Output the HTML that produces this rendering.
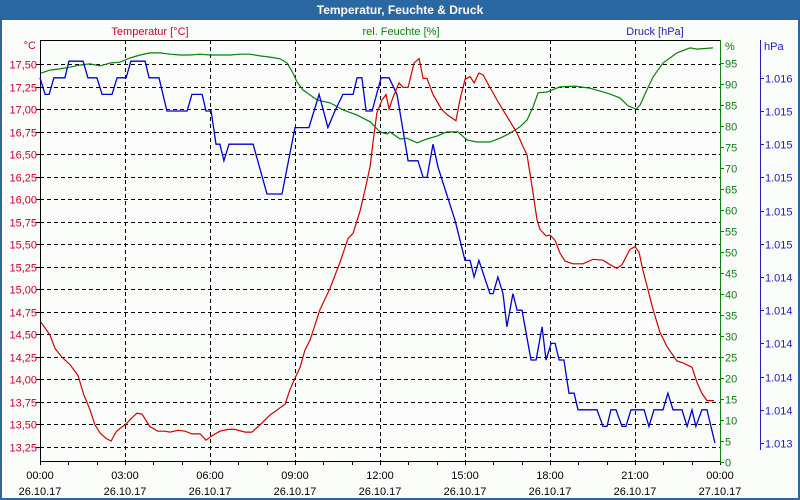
<!DOCTYPE html>
<html><head><meta charset="utf-8"><style>
body{margin:0;background:#fff;}
svg{display:block;font-family:"Liberation Sans",sans-serif;}
</style></head><body>
<svg id="c" width="800" height="500">
<rect x="0" y="0" width="800" height="500" fill="#2a67a3"/>
<rect x="2" y="20" width="796" height="478" fill="#fbfdfb"/>
<text x="400" y="14" text-anchor="middle" fill="#fff" font-size="12" font-weight="bold">Temperatur, Feuchte &amp; Druck</text>
<text x="150" y="35" text-anchor="middle" fill="#d0002a" font-size="11">Temperatur [°C]</text>
<text x="401" y="35" text-anchor="middle" fill="#108010" font-size="11">rel. Feuchte [%]</text>
<text x="655" y="35" text-anchor="middle" fill="#2020c0" font-size="11">Druck [hPa]</text>
<g id="grid"></g><g id="axes"></g><g id="series"></g>
</svg>
<script>
const NS="http://www.w3.org/2000/svg";
const tempTicks=[17.5,17.25,17.0,16.75,16.5,16.25,16.0,15.75,15.5,15.25,15.0,14.75,14.5,14.25,14.0,13.75,13.5,13.25];
const humTicks=[0,5,10,15,20,25,30,35,40,45,50,55,60,65,70,75,80,85,90,95];
const presTicks=[1013.4,1013.6,1013.8,1014.0,1014.2,1014.4,1014.6,1014.8,1015.0,1015.2,1015.4,1015.6];
const presLabels=["1.013","1.014","1.014","1.014","1.014","1.014","1.015","1.015","1.015","1.015","1.015","1.016"];
const timeLabels=["00:00","03:00","06:00","09:00","12:00","15:00","18:00","21:00","00:00"];
const dateLabels=["26.10.17","26.10.17","26.10.17","26.10.17","26.10.17","26.10.17","26.10.17","26.10.17","27.10.17"];
const tempHours=[0.04,0.35,0.53,0.78,1.06,1.34,1.55,1.62,1.76,1.94,2.12,2.33,2.51,2.68,2.86,3.04,3.25,3.42,3.6,3.88,4.16,4.41,4.59,4.87,5.12,5.36,5.65,5.86,6.07,6.35,6.64,6.88,7.24,7.48,7.76,8.12,8.47,8.65,8.82,9.0,9.18,9.35,9.53,9.88,10.24,10.59,10.87,11.05,11.29,11.47,11.65,11.75,11.89,12.07,12.21,12.32,12.46,12.67,12.81,12.99,13.2,13.38,13.52,13.66,13.87,14.19,14.4,14.68,14.82,15.0,15.18,15.32,15.49,15.64,15.88,16.13,16.34,16.59,16.84,17.05,17.19,17.29,17.4,17.54,17.65,17.86,18.0,18.18,18.35,18.53,18.81,19.16,19.52,19.87,20.12,20.36,20.54,20.82,21.0,21.14,21.28,21.46,21.64,21.88,22.13,22.48,22.69,23.01,23.19,23.36,23.54,23.79];
const tempValues=[14.63,14.49,14.34,14.24,14.16,14.04,13.82,13.77,13.66,13.49,13.4,13.34,13.31,13.41,13.46,13.5,13.57,13.62,13.61,13.47,13.42,13.42,13.41,13.43,13.42,13.39,13.39,13.32,13.37,13.42,13.44,13.44,13.41,13.41,13.49,13.6,13.68,13.72,13.88,14.01,14.13,14.32,14.43,14.77,15.01,15.3,15.56,15.62,15.86,16.1,16.36,16.62,16.96,17.1,17.16,17.0,17.13,17.29,17.24,17.24,17.51,17.56,17.34,17.34,17.16,16.99,16.93,16.87,17.1,17.33,17.36,17.29,17.4,17.38,17.24,17.1,16.99,16.86,16.73,16.58,16.49,16.29,16.07,15.77,15.66,15.59,15.6,15.54,15.4,15.31,15.28,15.28,15.33,15.32,15.27,15.23,15.27,15.44,15.47,15.41,15.21,14.99,14.77,14.52,14.36,14.2,14.18,14.13,13.96,13.84,13.76,13.76];
const humHours=[0.04,0.35,0.71,1.06,1.41,1.76,2.12,2.47,2.82,3.18,3.53,3.88,4.24,4.59,4.94,5.29,5.65,6.0,6.35,6.71,7.06,7.41,7.76,8.12,8.47,8.72,8.93,9.07,9.28,9.78,10.24,10.7,11.19,11.65,12.0,12.25,12.35,12.71,12.95,13.31,13.66,14.01,14.36,14.75,15.07,15.42,15.88,16.24,16.59,16.94,17.19,17.4,17.58,17.89,18.35,18.88,19.41,19.76,20.12,20.47,20.75,21.04,21.18,21.42,21.64,21.99,22.48,22.94,23.19,23.75];
const humValues=[92.6,93.3,93.6,94.0,94.5,94.8,94.3,95.0,95.2,96.2,96.9,97.4,97.4,97.1,96.9,96.9,97.1,96.9,96.9,96.9,97.1,97.1,96.7,96.4,96.0,95.0,92.6,90.5,88.6,86.2,85.5,83.8,82.6,81.0,78.6,78.1,78.6,76.9,77.1,76.0,76.9,77.6,78.6,78.6,76.7,76.2,76.2,77.1,78.3,79.8,81.4,84.5,87.9,88.1,89.3,89.5,89.0,88.3,87.6,86.7,84.8,84.0,85.0,88.6,91.7,95.0,97.4,98.6,98.3,98.6];
const presHours=[0.0,0.18,0.32,0.49,0.88,1.02,1.52,1.69,2.01,2.19,2.54,2.72,3.04,3.21,3.71,3.85,4.2,4.48,5.19,5.36,5.72,5.86,6.04,6.21,6.35,6.49,6.67,7.52,8.01,8.54,9.0,9.49,9.85,10.16,10.41,10.69,11.05,11.19,11.36,11.51,11.72,12.04,12.32,12.6,12.99,13.34,13.52,13.66,13.87,14.05,14.65,15.0,15.18,15.32,15.49,15.88,15.99,16.16,16.34,16.48,16.69,16.84,17.01,17.33,17.51,17.72,17.86,18.04,18.18,18.32,18.49,18.67,18.85,18.99,19.66,19.87,20.01,20.15,20.33,20.54,20.68,20.86,21.32,21.49,21.67,21.99,22.16,22.34,22.66,22.84,23.01,23.15,23.36,23.54,23.82];
const presValues=[1015.6,1015.5,1015.5,1015.6,1015.6,1015.7,1015.7,1015.6,1015.6,1015.5,1015.5,1015.6,1015.6,1015.7,1015.7,1015.6,1015.6,1015.4,1015.4,1015.5,1015.5,1015.4,1015.4,1015.2,1015.2,1015.1,1015.2,1015.2,1014.9,1014.9,1015.3,1015.3,1015.5,1015.3,1015.4,1015.5,1015.5,1015.6,1015.6,1015.4,1015.4,1015.6,1015.6,1015.5,1015.1,1015.1,1015.0,1015.0,1015.2,1015.06,1014.74,1014.5,1014.5,1014.4,1014.5,1014.3,1014.3,1014.4,1014.3,1014.1,1014.3,1014.2,1014.2,1013.9,1013.9,1014.1,1013.9,1014.0,1014.0,1013.9,1013.9,1013.7,1013.7,1013.6,1013.6,1013.5,1013.5,1013.6,1013.6,1013.5,1013.5,1013.6,1013.6,1013.5,1013.6,1013.6,1013.7,1013.6,1013.6,1013.5,1013.6,1013.5,1013.6,1013.6,1013.4];

const L=40,R=720,T=40,B=461;
const xS=h=>L+h*(R-L)/24;
const yT=v=>64+(17.5-v)*90;
const yH=v=>462-v*(462-63)/95;
const yP=v=>443-(v-1013.4)*166;
function el(tag,attrs,parent,txt){const e=document.createElementNS(NS,tag);for(const k in attrs)e.setAttribute(k,attrs[k]);if(txt!==undefined)e.textContent=txt;parent.appendChild(e);return e;}
const grid=document.getElementById('grid'),axes=document.getElementById('axes'),series=document.getElementById('series');
tempTicks.forEach((v,i)=>{const y=Math.round(yT(v))+0.5;
 const g=el('line',{x1:L,x2:R,y1:y,y2:y,stroke:'#000','stroke-dasharray':'4,3','stroke-width':1},grid);
 
 
 const t=el('line',{x1:L-4,x2:L,y1:y,y2:y,stroke:'#000'},axes);
 
 
 const lb=el('text',{x:L-3,y:y+4,'text-anchor':'end',fill:'#d0002a','font-size':11},axes,v.toFixed(2).replace('.',','));
 
 });
const cl=el('text',{x:L-4,y:49,'text-anchor':'end',fill:'#d0002a','font-size':11},axes,'°C');


for(let i=1;i<8;i++){const x=Math.round(xS(i*3))+0.5;
 const g=el('line',{x1:x,x2:x,y1:T,y2:B,stroke:'#000','stroke-dasharray':'4,3'},grid);
 
 }
for(let h=0;h<=24;h++){const x=Math.round(xS(h))+0.5;
 const t=el('line',{x1:x,x2:x,y1:B,y2:B+4,stroke:'#000'},axes);
 
 }
timeLabels.forEach((s,i)=>{const x=xS(i*3);
 const a=el('text',{x:x,y:479,'text-anchor':'middle',fill:'#000','font-size':11},axes,s);
 
 
 const b=el('text',{x:x,y:495,'text-anchor':'middle',fill:'#000','font-size':11},axes,dateLabels[i]);
 
 });
const frame=[['left-axis',L+.5,T,L+.5,B+.5,'#000'],['top-border',L,T+.5,R,T+.5,'#000'],['x-axis',L,B+.5,R,B+.5,'#000'],['humidity-axis',R+.5,T,R+.5,B+.5,'#108010'],['pressure-axis',760.5,40,760.5,450,'#2020c0']];
frame.forEach(f=>{const e=el('line',{x1:f[1],y1:f[2],x2:f[3],y2:f[4],stroke:f[5]},axes);
 
 });
humTicks.forEach(v=>{const y=Math.round(yH(v))+0.5;
 const t=el('line',{x1:R,x2:R+4,y1:y,y2:y,stroke:'#108010'},axes);
 
 
 const lb=el('text',{x:R+5,y:y+4,fill:'#108010','font-size':11},axes,String(v));
 
 });
const pc=el('text',{x:R+5,y:50,fill:'#108010','font-size':11},axes,'%');


presTicks.forEach((v,i)=>{const y=Math.round(yP(v))+0.5;
 const t=el('line',{x1:760,x2:764,y1:y,y2:y,stroke:'#2020c0'},axes);
 
 
 const lb=el('text',{x:765,y:y+4,fill:'#2020c0','font-size':11},axes,presLabels[i]);
 
 });
const hp=el('text',{x:764,y:50,fill:'#2020c0','font-size':11},axes,'hPa');


function poly(hs,vs,yf,col){return hs.map((h,i)=>xS(h).toFixed(1)+','+yf(vs[i]).toFixed(1)).join(' ');}
const ph=el('polyline',{points:poly(humHours,humValues,yH),fill:'none',stroke:'#0a800a','stroke-width':1.2},series);


const pp=el('polyline',{points:poly(presHours,presValues,yP),fill:'none',stroke:'#0000d0','stroke-width':1.3},series);


const pt=el('polyline',{points:poly(tempHours,tempValues,yT),fill:'none',stroke:'#d00000','stroke-width':1.2},series);


</script>
</body></html>
